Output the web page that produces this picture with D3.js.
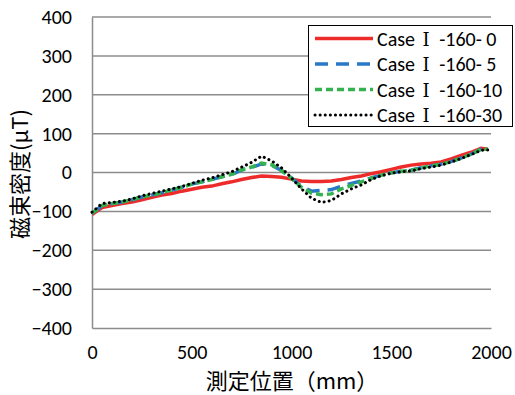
<!DOCTYPE html>
<html><head><meta charset="utf-8">
<script src="https://cdn.jsdelivr.net/npm/d3@7"></script>
<style>
body{margin:0;background:#fff;}
svg{display:block;}
</style></head>
<body>
<script>
const positions = [0,50,100,150,200,250,300,350,400,450,500,550,600,650,700,750,800,850,900,950,1000,1050,1100,1150,1200,1250,1300,1350,1400,1450,1500,1550,1600,1650,1700,1750,1800,1850,1900,1950,1985];
const case0  = [-108,-90,-85,-80,-76,-70,-64,-58,-54,-48,-43,-38,-35,-29,-24,-18,-13,-9,-10,-12,-17,-22,-23,-23,-22,-18,-13,-9,-3,2,8,14,19,22,24,27,35,44,52,62,60];
const case5  = [-105,-85,-80,-76,-70,-63,-58,-52,-45,-38,-30,-24,-18,-11,-5,6,13,22,19,5,-14,-36,-48,-46,-44,-35,-28,-22,-14,-7,-1,3,6,12,17,21,28,37,47,60,60];
const case10 = [-105,-85,-80,-76,-70,-63,-58,-52,-45,-38,-30,-24,-18,-11,-5,7,14,24,20,5,-15,-38,-53,-57,-55,-42,-33,-24,-15,-7,-1,3,6,12,17,21,28,37,47,60,60];
const case30 = [-102,-80,-77,-74,-68,-60,-54,-48,-42,-36,-28,-20,-14,-6,2,14,26,42,30,12,-14,-42,-66,-77,-72,-55,-42,-32,-18,-8,-2,2,4,10,14,19,27,36,46,57,58];
const seriesSuffix = ["-160- 0","-160- 5","-160-10","-160-30"];
const xTicks = [0,500,1000,1500,2000];
const yTicks = [-400,-300,-200,-100,0,100,200,300,400];

const W=515,H=395;
const svg=d3.select("body").append("svg").attr("width",W).attr("height",H);
const x=d3.scaleLinear().domain([0,2000]).range([92,491]);
const y=d3.scaleLinear().domain([-400,400]).range([328,17]);
const font="Carlito, Calibri, 'Liberation Sans Narrow', 'Liberation Sans', sans-serif";
const cjk="'Noto Sans CJK JP', 'Noto Sans CJK SC', sans-serif";

// gridlines
svg.append("g").selectAll("line").data(yTicks.filter(d=>d>-400)).join("line")
  .attr("x1",x(0)).attr("x2",x(2000)).attr("y1",d=>y(d)).attr("y2",d=>y(d))
  .attr("stroke","#8c8c8c").attr("stroke-width",1.5);

// axes
const yAxis=d3.axisLeft(y).tickValues(yTicks).tickSize(0).tickPadding(20).tickFormat(d3.format("d"));
const gy=svg.append("g").attr("transform",`translate(${x(0)},0)`).call(yAxis);
const xAxis=d3.axisBottom(x).tickValues(xTicks).tickSize(0).tickPadding(17).tickFormat(d3.format("d"));
const gx=svg.append("g").attr("transform",`translate(0,${y(-400)})`).call(xAxis);
[gx,gy].forEach(g=>{
  g.select(".domain").attr("stroke","#8c8c8c").attr("stroke-width",1.5);
  g.selectAll("text").attr("font-family",font).attr("font-size",20).attr("fill","#000");
});

// series
const styles=[
  {data:case0,color:"#ee2b2b",dash:null,w:3.5,cap:"butt"},
  {data:case5,color:"#2a78c6",dash:"13,8",w:3.5,cap:"butt"},
  {data:case10,color:"#33b24f",dash:"7,4",w:3.5,cap:"butt"},
  {data:case30,color:"#000000",dash:"0.1,5",w:3,cap:"round"}
];
const line=d3.line().x((d,i)=>x(positions[i])).y(d=>y(d));
styles.forEach(s=>{
  svg.append("path").attr("d",line(s.data)).attr("fill","none")
    .attr("stroke",s.color).attr("stroke-width",s.w)
    .attr("stroke-dasharray",s.dash).attr("stroke-linecap",s.cap);
});

// legend
const lg=svg.append("g");
lg.append("rect").attr("x",308.5).attr("y",25.5).attr("width",204).attr("height",101)
  .attr("fill","#fff").attr("stroke","#000").attr("stroke-width",1);
seriesSuffix.forEach((n,i)=>{
  const cy=38.5+i*25.5;
  const s=styles[i];
  lg.append("line").attr("x1",315).attr("x2",373).attr("y1",cy).attr("y2",cy)
    .attr("stroke",s.color).attr("stroke-width",s.w).attr("stroke-dasharray",s.dash).attr("stroke-linecap",s.cap);
  const t=lg.append("text").attr("x",377).attr("y",cy).attr("dy","0.35em")
    .attr("font-family",font).attr("font-size",20).attr("fill","#000");
  t.append("tspan").text("Case ");
  t.append("tspan").attr("font-family","'DejaVu Serif', 'Liberation Serif', serif").attr("font-size",18).attr("dx",3).text("Ⅰ");
  t.append("tspan").attr("dx",5).text(" "+n);
});

// titles
svg.append("text").attr("transform","translate(20,174) rotate(-90)")
  .attr("text-anchor","middle").attr("dy","0.35em")
  .attr("font-family",cjk).attr("font-size",22).attr("fill","#000").text("磁束密度(μT)");
svg.append("text").attr("x",292).attr("y",381).attr("text-anchor","middle").attr("dy","0.35em")
  .attr("font-family",cjk).attr("font-size",22).attr("fill","#000").text("測定位置（mm）");
</script>
</body></html>
